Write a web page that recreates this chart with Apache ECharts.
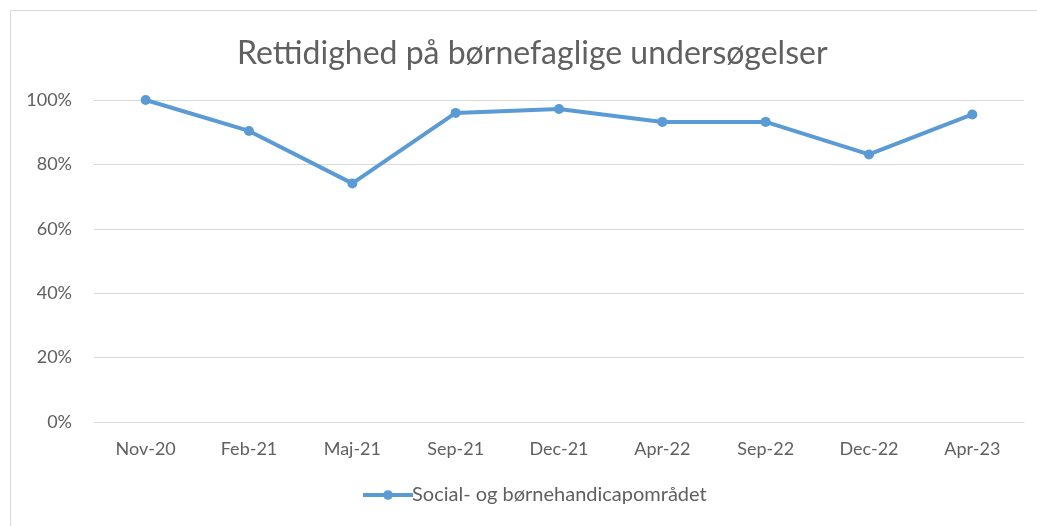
<!DOCTYPE html>
<html><head><meta charset="utf-8">
<script src="https://cdn.jsdelivr.net/npm/echarts@6/dist/echarts.min.js"></script>
<style>
html,body{margin:0;padding:0;background:#fff;}
#frame{position:absolute;left:10px;top:10px;width:1030px;height:520px;border:1px solid #d9d9d9;box-sizing:border-box;}
#c{position:absolute;left:0;top:0;width:1037px;height:526px;}
</style></head>
<body>
<div id="frame"></div>
<div id="c"></div>
<script>
const title = 'Rettidighed på børnefaglige undersøgelser';
const seriesName = 'Social- og børnehandicapområdet';
const categories = ['Nov-20','Feb-21','Maj-21','Sep-21','Dec-21','Apr-22','Sep-22','Dec-22','Apr-23'];
const values = [100, 90.4, 74.1, 96.0, 97.2, 93.2, 93.2, 83.1, 95.5];

const chart = echarts.init(document.getElementById('c'), null, {renderer:'canvas'});
const font = 'Lato, "Open Sans", sans-serif';
chart.setOption({
  animation:false,
  textStyle:{fontFamily:font},
  title:{text:title,left:232,top:33,textStyle:{fontFamily:font,fontSize:32,fontWeight:'normal',color:'#606060'}},
  grid:{left:94,right:13,top:100,bottom:104,containLabel:false},
  legend:{bottom:16,left:356,itemWidth:50,itemHeight:12,itemGap:0,
    lineStyle:{width:4},
    textStyle:{fontFamily:font,fontSize:20,color:'#606060',padding:[0,0,0,-6]},data:[seriesName]},
  xAxis:{type:'category',data:categories,boundaryGap:true,
    axisLine:{show:true,lineStyle:{color:'#d9d9d9'}},axisTick:{show:false},
    axisLabel:{fontFamily:font,fontSize:18,color:'#606060',margin:18}},
  yAxis:{type:'value',min:0,max:100,interval:20,
    axisLine:{show:false},axisTick:{show:false},
    axisLabel:{formatter:'{value}%',fontFamily:font,fontSize:18,color:'#606060',margin:22},
    splitLine:{lineStyle:{color:'#d9d9d9'}}},
  series:[{name:seriesName,type:'line',data:values,symbol:'circle',symbolSize:10,
    lineStyle:{color:'#5B9BD5',width:4},itemStyle:{color:'#5B9BD5'}}]
});
</script>
</body></html>
